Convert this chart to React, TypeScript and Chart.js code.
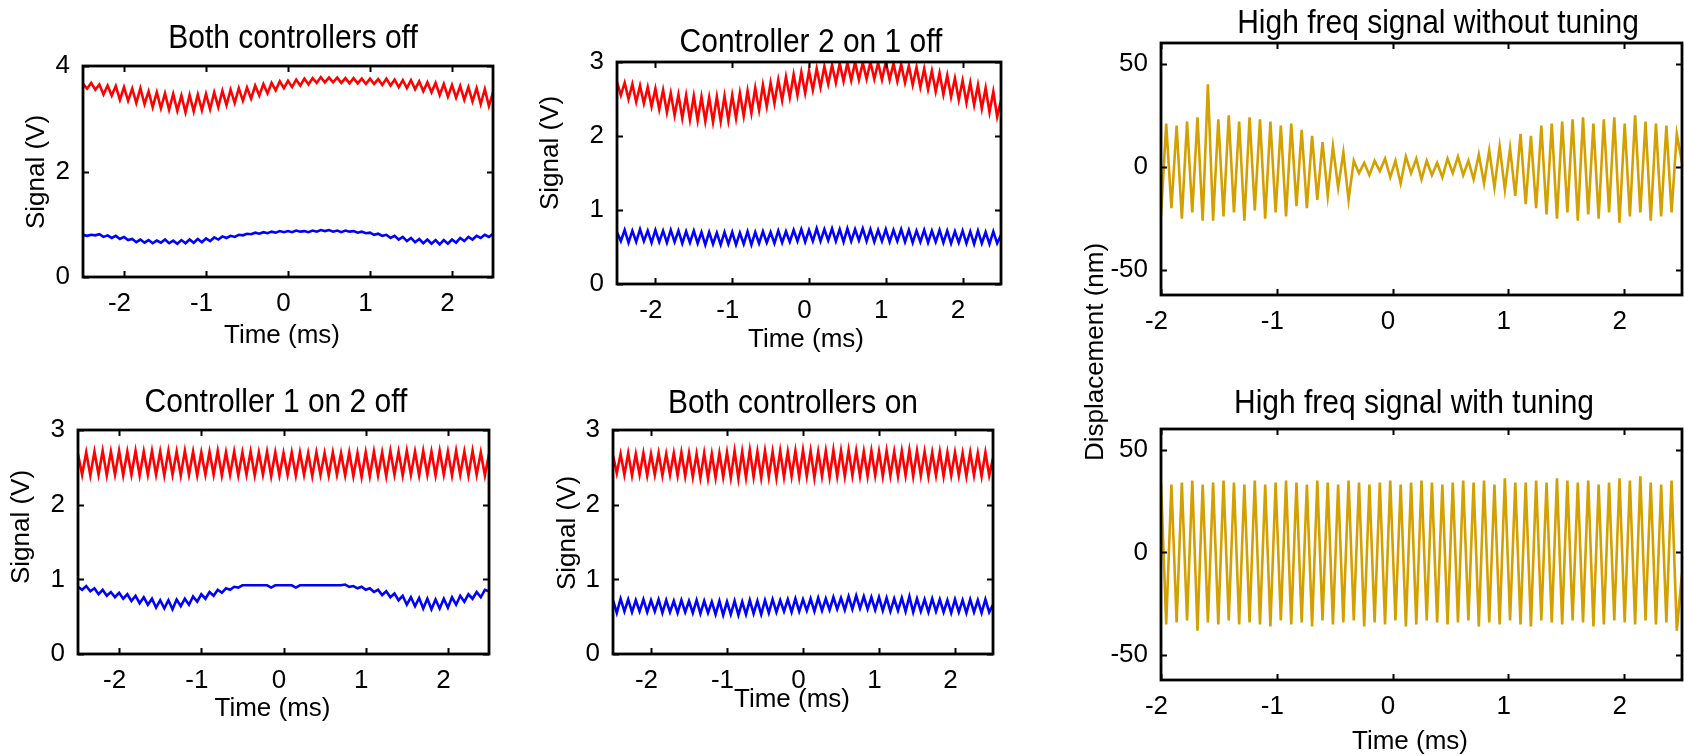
import { useEffect, useRef } from "react";
import { Chart, registerables } from "chart.js";

Chart.register(...registerables);

// ---- sampling of the recorded traces (ms) ----
const SIGNAL_T0 = -2.5;
const SIGNAL_DT = 0.05;
const HF_T0 = -2;
const HF_DT = 0.045;

// ---- tick values ----
const SIGNAL_X_TICKS = [-2, -1, 0, 1, 2];
const HF_X_TICKS = [-2, -1, 0, 1, 2];
const BOTH_OFF_Y_TICKS = [0, 2, 4];
const SIGNAL_Y_TICKS = [0, 1, 2, 3];
const HF_Y_TICKS = [-50, 0, 50];

// ---- detector signals (V) ----
const bothOffRed = [
  3.66, 3.57, 3.68, 3.55, 3.65, 3.46, 3.63, 3.44, 3.62, 3.36,
  3.60, 3.34, 3.57, 3.30, 3.58, 3.28, 3.52, 3.22, 3.50, 3.20,
  3.48, 3.17, 3.47, 3.15, 3.44, 3.12, 3.45, 3.14, 3.46, 3.16,
  3.47, 3.18, 3.50, 3.22, 3.53, 3.26, 3.55, 3.30, 3.58, 3.34,
  3.59, 3.38, 3.63, 3.44, 3.66, 3.48, 3.68, 3.54, 3.71, 3.58,
  3.72, 3.60, 3.74, 3.63, 3.76, 3.65, 3.77, 3.68, 3.79, 3.69,
  3.78, 3.69, 3.78, 3.68, 3.77, 3.67, 3.77, 3.67, 3.76, 3.66,
  3.76, 3.66, 3.75, 3.64, 3.76, 3.63, 3.74, 3.60, 3.73, 3.58,
  3.73, 3.56, 3.71, 3.52, 3.69, 3.50, 3.68, 3.45, 3.66, 3.42,
  3.64, 3.40, 3.62, 3.36, 3.60, 3.33, 3.58, 3.28, 3.56, 3.24,
  3.50,
];
const bothOffBlue = [
  0.80, 0.78, 0.80, 0.79, 0.81, 0.76, 0.79, 0.74, 0.78, 0.72,
  0.76, 0.70, 0.72, 0.66, 0.71, 0.65, 0.70, 0.64, 0.69, 0.65,
  0.71, 0.64, 0.69, 0.63, 0.70, 0.64, 0.71, 0.65, 0.72, 0.66,
  0.73, 0.68, 0.75, 0.71, 0.77, 0.74, 0.78, 0.76, 0.80, 0.79,
  0.82, 0.81, 0.84, 0.82, 0.85, 0.83, 0.86, 0.84, 0.87, 0.85,
  0.87, 0.85, 0.88, 0.86, 0.87, 0.85, 0.88, 0.86, 0.89, 0.87,
  0.89, 0.86, 0.88, 0.85, 0.88, 0.86, 0.87, 0.84, 0.86, 0.83,
  0.84, 0.80, 0.82, 0.78, 0.80, 0.74, 0.78, 0.71, 0.76, 0.68,
  0.74, 0.66, 0.72, 0.64, 0.71, 0.63, 0.70, 0.62, 0.70, 0.63,
  0.71, 0.65, 0.74, 0.68, 0.76, 0.71, 0.78, 0.74, 0.80, 0.76,
  0.82,
];
const ctrl2OnRed = [
  2.73, 2.55, 2.72, 2.50, 2.70, 2.46, 2.68, 2.44, 2.66, 2.40,
  2.64, 2.36, 2.62, 2.32, 2.58, 2.28, 2.56, 2.24, 2.55, 2.22,
  2.54, 2.21, 2.53, 2.20, 2.52, 2.19, 2.53, 2.20, 2.54, 2.21,
  2.55, 2.24, 2.58, 2.27, 2.61, 2.31, 2.65, 2.35, 2.69, 2.40,
  2.72, 2.44, 2.76, 2.48, 2.80, 2.52, 2.83, 2.55, 2.86, 2.58,
  2.88, 2.62, 2.91, 2.66, 2.94, 2.70, 2.96, 2.72, 2.98, 2.74,
  2.99, 2.75, 3.00, 2.76, 2.99, 2.77, 3.00, 2.77, 2.99, 2.76,
  3.00, 2.76, 2.98, 2.74, 2.97, 2.72, 2.95, 2.69, 2.93, 2.66,
  2.91, 2.63, 2.88, 2.60, 2.85, 2.56, 2.82, 2.53, 2.78, 2.49,
  2.75, 2.45, 2.72, 2.42, 2.69, 2.37, 2.65, 2.32, 2.60, 2.26,
  2.48,
];
const ctrl2OnBlue = [
  0.70, 0.58, 0.73, 0.56, 0.72, 0.57, 0.74, 0.58, 0.72, 0.56,
  0.73, 0.57, 0.72, 0.56, 0.73, 0.57, 0.72, 0.55, 0.71, 0.56,
  0.72, 0.55, 0.70, 0.53, 0.70, 0.54, 0.69, 0.53, 0.70, 0.54,
  0.70, 0.53, 0.69, 0.54, 0.71, 0.53, 0.70, 0.55, 0.71, 0.56,
  0.70, 0.55, 0.72, 0.56, 0.71, 0.57, 0.73, 0.58, 0.74, 0.57,
  0.73, 0.58, 0.75, 0.58, 0.74, 0.59, 0.75, 0.58, 0.74, 0.57,
  0.75, 0.58, 0.74, 0.59, 0.75, 0.58, 0.74, 0.57, 0.73, 0.58,
  0.74, 0.57, 0.73, 0.58, 0.74, 0.57, 0.73, 0.56, 0.72, 0.57,
  0.73, 0.56, 0.72, 0.57, 0.73, 0.56, 0.72, 0.55, 0.71, 0.56,
  0.72, 0.55, 0.71, 0.54, 0.72, 0.55, 0.70, 0.54, 0.71, 0.55,
  0.66,
];
const ctrl1OnRed = [
  2.68, 2.40, 2.70, 2.39, 2.71, 2.40, 2.72, 2.39, 2.71, 2.40,
  2.72, 2.39, 2.71, 2.40, 2.72, 2.39, 2.71, 2.40, 2.72, 2.40,
  2.71, 2.39, 2.72, 2.40, 2.71, 2.39, 2.72, 2.40, 2.71, 2.39,
  2.70, 2.40, 2.71, 2.40, 2.72, 2.39, 2.70, 2.40, 2.71, 2.39,
  2.70, 2.40, 2.71, 2.39, 2.70, 2.40, 2.71, 2.38, 2.70, 2.39,
  2.69, 2.40, 2.70, 2.39, 2.70, 2.40, 2.69, 2.38, 2.70, 2.40,
  2.69, 2.39, 2.70, 2.40, 2.69, 2.39, 2.70, 2.38, 2.69, 2.37,
  2.70, 2.38, 2.71, 2.39, 2.70, 2.38, 2.72, 2.40, 2.71, 2.39,
  2.72, 2.40, 2.71, 2.39, 2.72, 2.40, 2.71, 2.39, 2.72, 2.40,
  2.71, 2.39, 2.72, 2.40, 2.71, 2.39, 2.72, 2.40, 2.70, 2.39,
  2.68,
];
const ctrl1OnBlue = [
  0.90, 0.86, 0.91, 0.84, 0.88, 0.80, 0.86, 0.78, 0.83, 0.76,
  0.82, 0.74, 0.80, 0.71, 0.78, 0.68, 0.76, 0.66, 0.74, 0.62,
  0.72, 0.61, 0.72, 0.60, 0.73, 0.64, 0.74, 0.66, 0.77, 0.70,
  0.80, 0.74, 0.83, 0.78, 0.86, 0.82, 0.88, 0.86, 0.90, 0.89,
  0.92, 0.92, 0.92, 0.92, 0.92, 0.92, 0.92, 0.89, 0.92, 0.92,
  0.92, 0.92, 0.92, 0.89, 0.92, 0.92, 0.92, 0.92, 0.92, 0.92,
  0.92, 0.92, 0.92, 0.92, 0.92, 0.93, 0.90, 0.91, 0.88, 0.90,
  0.86, 0.88, 0.83, 0.86, 0.79, 0.84, 0.76, 0.81, 0.72, 0.78,
  0.66, 0.76, 0.64, 0.75, 0.61, 0.74, 0.60, 0.73, 0.61, 0.74,
  0.62, 0.76, 0.66, 0.78, 0.70, 0.80, 0.74, 0.83, 0.76, 0.86,
  0.84,
];
const bothOnRed = [
  2.66, 2.42, 2.68, 2.40, 2.69, 2.39, 2.68, 2.40, 2.69, 2.39,
  2.68, 2.40, 2.69, 2.39, 2.68, 2.40, 2.69, 2.39, 2.70, 2.38,
  2.69, 2.37, 2.68, 2.36, 2.69, 2.35, 2.68, 2.36, 2.69, 2.37,
  2.70, 2.36, 2.72, 2.35, 2.71, 2.36, 2.73, 2.37, 2.71, 2.36,
  2.72, 2.37, 2.71, 2.36, 2.72, 2.37, 2.71, 2.38, 2.72, 2.37,
  2.73, 2.38, 2.72, 2.36, 2.71, 2.38, 2.72, 2.37, 2.73, 2.38,
  2.72, 2.38, 2.73, 2.39, 2.72, 2.38, 2.71, 2.38, 2.72, 2.39,
  2.71, 2.38, 2.72, 2.39, 2.71, 2.38, 2.72, 2.39, 2.73, 2.38,
  2.72, 2.39, 2.71, 2.38, 2.70, 2.39, 2.71, 2.38, 2.70, 2.39,
  2.70, 2.39, 2.69, 2.38, 2.70, 2.39, 2.69, 2.38, 2.70, 2.39,
  2.62,
];
const bothOnBlue = [
  0.72, 0.55, 0.74, 0.57, 0.73, 0.56, 0.72, 0.57, 0.73, 0.56,
  0.72, 0.57, 0.73, 0.55, 0.72, 0.56, 0.71, 0.55, 0.72, 0.56,
  0.71, 0.55, 0.72, 0.54, 0.71, 0.55, 0.70, 0.53, 0.71, 0.52,
  0.70, 0.53, 0.71, 0.52, 0.70, 0.53, 0.72, 0.54, 0.71, 0.53,
  0.72, 0.55, 0.73, 0.56, 0.72, 0.57, 0.73, 0.56, 0.74, 0.57,
  0.73, 0.58, 0.74, 0.57, 0.75, 0.58, 0.74, 0.59, 0.76, 0.60,
  0.75, 0.59, 0.77, 0.60, 0.78, 0.61, 0.77, 0.60, 0.76, 0.59,
  0.76, 0.58, 0.75, 0.57, 0.74, 0.58, 0.75, 0.57, 0.77, 0.56,
  0.74, 0.57, 0.73, 0.56, 0.74, 0.57, 0.73, 0.56, 0.72, 0.55,
  0.73, 0.56, 0.72, 0.55, 0.73, 0.56, 0.72, 0.55, 0.73, 0.56,
  0.66,
];

// ---- high frequency displacement (nm) ----
const hfWithoutTuning = [
  -24, 21, -20, 20, -25, 22, -22, 24, -26, 40,
  -26, 23, -24, 25, -22, 22, -26, 24, -21, 23,
  -25, 22, -22, 20, -24, 21, -19, 18, -20, 15,
  -16, 12, -14, 10, -10, 7, -16, 3, -3, 2,
  -4, 3, -2, 4, -5, 3, -8, 5, -3, 4,
  -6, 3, -4, 2, -5, 4, -3, 5, -4, 3,
  -6, 6, -8, 8, -10, 10, -11, 9, -14, 16,
  -18, 15, -20, 20, -23, 21, -25, 22, -22, 23,
  -26, 24, -23, 21, -25, 23, -22, 24, -27, 21,
  -24, 25, -22, 22, -26, 21, -24, 20, -22, 16,
  2,
];
const hfWithTuning = [
  34, -35, 33, -34, 34, -33, 35, -38, 33, -34,
  34, -35, 35, -33, 34, -35, 33, -34, 35, -35,
  33, -36, 34, -33, 35, -35, 34, -34, 33, -36,
  35, -33, 34, -35, 33, -34, 35, -33, 34, -36,
  33, -34, 34, -35, 35, -33, 33, -36, 34, -35,
  35, -33, 34, -34, 33, -35, 34, -34, 35, -33,
  34, -36, 35, -34, 33, -35, 36, -33, 34, -35,
  34, -36, 35, -33, 34, -34, 36, -35, 35, -33,
  34, -34, 35, -36, 33, -35, 34, -33, 36, -34,
  35, -35, 37, -33, 34, -35, 33, -34, 35, -38,
  -10,
];

const RED = "#ff0000";
const BLUE = "#0000ff";
const GOLD = "#d4a000";

const PAGE_W = 1684;
const PAGE_H = 756;
const SANS = '"Liberation Sans", Arial, Helvetica, sans-serif';
const TICK_FONT_SIZE = 26;
const LABEL_FONT = `26px ${SANS}`;
const TITLE_FONT = `33.5px ${SANS}`;
const TITLE_SQUEEZE = 0.895;
// room reserved for the tick labels outside the frame
const Y_SCALE_W = 70;
const X_SCALE_H = 45;

type Series = { values: number[]; t0: number; dt: number; color: string };
type TextItem = { text: string; x: number; y: number; kind: "title" | "label" | "vlabel" };
type Panel = {
  box: { left: number; right: number; top: number; bottom: number };
  xMin: number;
  xMax: number;
  yMin: number;
  yMax: number;
  xTicks: number[];
  yTicks: number[];
  series: Series[];
  texts: TextItem[];
};

const PANELS: Panel[] = [
  {
    box: { left: 83, right: 493, top: 66, bottom: 277 },
    xMin: -2.5, xMax: 2.5, yMin: 0, yMax: 4,
    xTicks: SIGNAL_X_TICKS, yTicks: BOTH_OFF_Y_TICKS,
    series: [
      { values: bothOffRed, t0: SIGNAL_T0, dt: SIGNAL_DT, color: RED },
      { values: bothOffBlue, t0: SIGNAL_T0, dt: SIGNAL_DT, color: BLUE },
    ],
    texts: [
      { text: "Both controllers off", x: 293, y: 48, kind: "title" },
      { text: "Time (ms)", x: 282, y: 343, kind: "label" },
      { text: "Signal (V)", x: 43.5, y: 172, kind: "vlabel" },
    ],
  },
  {
    box: { left: 617, right: 1001, top: 62, bottom: 284 },
    xMin: -2.5, xMax: 2.5, yMin: 0, yMax: 3,
    xTicks: SIGNAL_X_TICKS, yTicks: SIGNAL_Y_TICKS,
    series: [
      { values: ctrl2OnRed, t0: SIGNAL_T0, dt: SIGNAL_DT, color: RED },
      { values: ctrl2OnBlue, t0: SIGNAL_T0, dt: SIGNAL_DT, color: BLUE },
    ],
    texts: [
      { text: "Controller 2 on 1 off", x: 811, y: 51.5, kind: "title" },
      { text: "Time (ms)", x: 806, y: 346.5, kind: "label" },
      { text: "Signal (V)", x: 558, y: 153, kind: "vlabel" },
    ],
  },
  {
    box: { left: 78, right: 489, top: 430, bottom: 654 },
    xMin: -2.5, xMax: 2.5, yMin: 0, yMax: 3,
    xTicks: SIGNAL_X_TICKS, yTicks: SIGNAL_Y_TICKS,
    series: [
      { values: ctrl1OnRed, t0: SIGNAL_T0, dt: SIGNAL_DT, color: RED },
      { values: ctrl1OnBlue, t0: SIGNAL_T0, dt: SIGNAL_DT, color: BLUE },
    ],
    texts: [
      { text: "Controller 1 on 2 off", x: 276, y: 411.5, kind: "title" },
      { text: "Time (ms)", x: 272.5, y: 716, kind: "label" },
      { text: "Signal (V)", x: 28.5, y: 527, kind: "vlabel" },
    ],
  },
  {
    box: { left: 613, right: 993, top: 430, bottom: 654 },
    xMin: -2.5, xMax: 2.5, yMin: 0, yMax: 3,
    xTicks: SIGNAL_X_TICKS, yTicks: SIGNAL_Y_TICKS,
    series: [
      { values: bothOnRed, t0: SIGNAL_T0, dt: SIGNAL_DT, color: RED },
      { values: bothOnBlue, t0: SIGNAL_T0, dt: SIGNAL_DT, color: BLUE },
    ],
    texts: [
      { text: "Both controllers on", x: 793, y: 413, kind: "title" },
      { text: "Time (ms)", x: 792, y: 707, kind: "label" },
      { text: "Signal (V)", x: 575, y: 533, kind: "vlabel" },
    ],
  },
  {
    box: { left: 1161, right: 1682, top: 43, bottom: 295 },
    xMin: -2, xMax: 2.5, yMin: -62, yMax: 60,
    xTicks: HF_X_TICKS, yTicks: HF_Y_TICKS,
    series: [{ values: hfWithoutTuning, t0: HF_T0, dt: HF_DT, color: GOLD }],
    texts: [
      { text: "High freq signal without tuning", x: 1438, y: 33, kind: "title" },
      { text: "Displacement (nm)", x: 1103, y: 352, kind: "vlabel" },
    ],
  },
  {
    box: { left: 1161, right: 1682, top: 429, bottom: 680 },
    xMin: -2, xMax: 2.5, yMin: -62, yMax: 60,
    xTicks: HF_X_TICKS, yTicks: HF_Y_TICKS,
    series: [{ values: hfWithTuning, t0: HF_T0, dt: HF_DT, color: GOLD }],
    texts: [
      { text: "High freq signal with tuning", x: 1414, y: 412.5, kind: "title" },
      { text: "Time (ms)", x: 1410, y: 749, kind: "label" },
    ],
  },
];

const TICK_LEN = 6;

// Draws the boxed frame with inward ticks on all four sides, plus titles and axis labels.
function framePlugin(panel: Panel) {
  return {
    id: "frameAndText",
    afterDatasetsDraw(chart: any) {
      const { ctx, chartArea: a, scales } = chart;
      ctx.save();
      ctx.strokeStyle = "#000";
      ctx.lineWidth = 2;
      ctx.beginPath();
      for (const t of scales.x.ticks) {
        const px = Math.round(scales.x.getPixelForValue(t.value)) + 0.5;
        ctx.moveTo(px, a.bottom);
        ctx.lineTo(px, a.bottom - TICK_LEN);
        ctx.moveTo(px, a.top);
        ctx.lineTo(px, a.top + TICK_LEN);
      }
      for (const t of scales.y.ticks) {
        const py = Math.round(scales.y.getPixelForValue(t.value)) + 0.5;
        ctx.moveTo(a.left, py);
        ctx.lineTo(a.left + TICK_LEN, py);
        ctx.moveTo(a.right, py);
        ctx.lineTo(a.right - TICK_LEN, py);
      }
      ctx.stroke();
      ctx.lineWidth = 2.8;
      ctx.strokeRect(a.left, a.top, a.right - a.left, a.bottom - a.top);
      ctx.restore();
    },
    afterDraw(chart: any) {
      const { ctx } = chart;
      for (const item of panel.texts) {
        ctx.save();
        ctx.fillStyle = "#000";
        ctx.textAlign = "center";
        ctx.textBaseline = "alphabetic";
        ctx.translate(item.x, item.y);
        if (item.kind === "title") {
          ctx.font = TITLE_FONT;
          ctx.scale(TITLE_SQUEEZE, 1);
        } else {
          ctx.font = LABEL_FONT;
          if (item.kind === "vlabel") ctx.rotate(-Math.PI / 2);
        }
        ctx.fillText(item.text, 0, 0);
        ctx.restore();
      }
    },
  };
}

function buildConfig(panel: Panel): any {
  const { box } = panel;
  const tickFont = { family: SANS, size: TICK_FONT_SIZE };
  return {
    type: "line",
    data: {
      datasets: panel.series.map((s) => ({
        data: s.values.map((v, i) => ({ x: s.t0 + i * s.dt, y: v })),
        borderColor: s.color,
        borderWidth: 2.6,
        pointRadius: 0,
        fill: false,
        tension: 0,
        borderJoinStyle: "miter",
      })),
    },
    options: {
      responsive: false,
      animation: false,
      devicePixelRatio: 1,
      events: [],
      layout: {
        padding: {
          left: box.left - Y_SCALE_W,
          right: PAGE_W - box.right,
          top: box.top,
          bottom: PAGE_H - box.bottom - X_SCALE_H,
        },
      },
      plugins: {
        legend: { display: false },
        tooltip: { enabled: false },
        title: { display: false },
      },
      scales: {
        x: {
          type: "linear",
          min: panel.xMin,
          max: panel.xMax,
          afterFit: (s: any) => {
            s.height = X_SCALE_H;
          },
          afterBuildTicks: (s: any) => {
            s.ticks = panel.xTicks.map((v) => ({ value: v }));
          },
          grid: { display: false, drawTicks: false },
          border: { display: false },
          ticks: {
            font: tickFont,
            color: "#000",
            padding: 11,
            labelOffset: -4.5,
            maxRotation: 0,
            autoSkip: false,
            callback: (v: number) => String(v),
          },
        },
        y: {
          type: "linear",
          min: panel.yMin,
          max: panel.yMax,
          afterFit: (s: any) => {
            s.width = Y_SCALE_W;
          },
          afterBuildTicks: (s: any) => {
            s.ticks = panel.yTicks.map((v) => ({ value: v }));
          },
          grid: { display: false, drawTicks: false },
          border: { display: false },
          ticks: {
            font: tickFont,
            color: "#000",
            padding: 13,
            autoSkip: false,
            callback: (v: number) => String(v),
          },
        },
      },
    },
    plugins: [framePlugin(panel)],
  };
}

function PanelCanvas({ panel }: { panel: Panel }) {
  const ref = useRef<HTMLCanvasElement | null>(null);
  useEffect(() => {
    if (!ref.current) return;
    const chart = new Chart(ref.current, buildConfig(panel));
    return () => chart.destroy();
  }, [panel]);
  return (
    <canvas
      ref={ref}
      width={PAGE_W}
      height={PAGE_H}
      style={{ position: "absolute", left: 0, top: 0, width: PAGE_W, height: PAGE_H }}
    />
  );
}

export default function App() {
  return (
    <div
      style={{
        position: "absolute",
        left: 0,
        top: 0,
        width: PAGE_W,
        height: PAGE_H,
        background: "#fff",
        overflow: "hidden",
      }}
    >
      {PANELS.map((p, i) => (
        <PanelCanvas key={i} panel={p} />
      ))}
    </div>
  );
}
